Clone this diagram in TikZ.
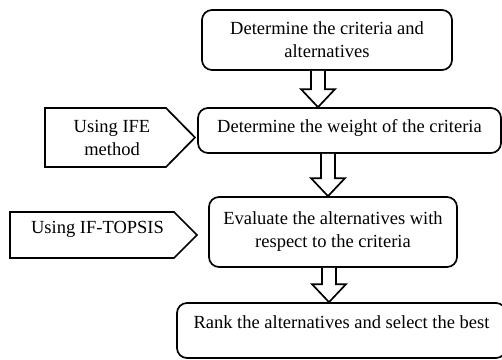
\documentclass[tikz,border=0pt]{standalone}
\usepackage{fontspec}
\setmainfont{Liberation Serif}
\usetikzlibrary{calc}
\tikzset{
  box/.style={draw, line width=1.7pt, rounded corners=10pt, align=center, inner sep=0pt,
    font=\fontsize{18.5}{23}\selectfont},
  lbl/.style={align=center, inner sep=0pt, font=\fontsize{18.5}{23}\selectfont},
  pent/.style={draw, line width=1.7pt, line join=miter},
  barrow/.style={draw, line width=1.7pt, fill=white, line join=miter},
}
\newcommand\blockarr[3]{%
  \draw[barrow] let \p1=(#1.south), \p2=(#2.north) in
    (#3pt-7pt,\y1) -- (#3pt-7pt,\y2+18pt) -- (#3pt-17pt,\y2+18pt) -- (#3pt,\y2)
    -- (#3pt+17pt,\y2+18pt) -- (#3pt+7pt,\y2+18pt) -- (#3pt+7pt,\y1);}
\begin{document}
\begin{tikzpicture}[x=1pt,y=1pt]
\useasboundingbox (0,0) rectangle (502,-359);
\node[box, minimum width=250pt, minimum height=60pt] (b1) at (327,-40)
  {Determine the criteria and\\alternatives};
\node[box, minimum width=303pt, minimum height=45pt, text height=12.6pt, text depth=9.6pt] (b2) at (349.5,-130.5)
  {Determine the weight of the criteria};
\node[box, minimum width=248pt, minimum height=70pt] (b3) at (333,-232)
  {Evaluate the alternatives with\\respect to the criteria};
\node[box, minimum width=329pt, minimum height=55pt, text height=12.6pt, text depth=17.6pt] (b4) at (341.5,-330.5)
  {Rank the alternatives and select the best};
% side inputs
\draw[pent] (45,-108) -- (166,-108) -- (195,-137.5) -- (166,-167) -- (45,-167) -- cycle;
\node[lbl] (u1) at (112,-137.5) {Using IFE\\method};
\draw[pent] (10,-212) -- (174,-212) -- (197,-235) -- (174,-258) -- (10,-258) -- cycle;
\node[lbl, anchor=base] (u2) at (97.5,-233) {Using IF-TOPSIS};
% block arrows
\blockarr{b1}{b2}{318}
\blockarr{b2}{b3}{328}
\blockarr{b3}{b4}{329}
\end{tikzpicture}
\end{document}
